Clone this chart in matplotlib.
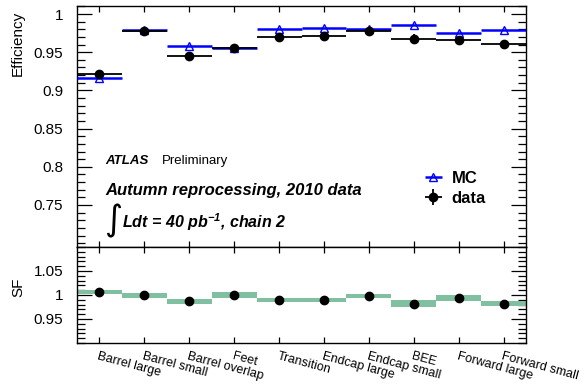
# efficiency per chamber region, data vs MC, with scale factor panel
import matplotlib
matplotlib.use("Agg")
import matplotlib.pyplot as plt
from matplotlib.ticker import MultipleLocator
import numpy as np

plt.rcParams['font.family'] = ['Liberation Sans', 'DejaVu Sans']
plt.rcParams['mathtext.fontset'] = 'custom'
plt.rcParams['mathtext.bf'] = 'Liberation Sans:bold:italic'
plt.rcParams['mathtext.rm'] = 'Liberation Sans:bold:italic'

regions = ["Barrel large", "Barrel small", "Barrel overlap", "Feet", "Transition",
           "Endcap large", "Endcap small", "BEE", "Forward large", "Forward small"]
eff_data = [0.921, 0.978, 0.945, 0.956, 0.970, 0.971, 0.9775, 0.9675, 0.9666, 0.961]
eff_data_err = [0.002, 0.001, 0.002, 0.002, 0.002, 0.002, 0.002, 0.006, 0.004, 0.0045]
eff_mc = [0.9165, 0.9795, 0.9576, 0.9554, 0.9805, 0.9814, 0.980, 0.986, 0.975, 0.979]
sf = [1.006, 0.999, 0.987, 1.000, 0.990, 0.990, 0.998, 0.982, 0.993, 0.982]
sf_err = [0.0043, 0.0045, 0.005, 0.006, 0.004, 0.004, 0.0037, 0.007, 0.006, 0.005]

x = np.arange(len(regions))

fig = plt.figure(figsize=(5.85, 3.91), dpi=100)
W, H = 585.0, 391.0
left, right = 77 / W, 526 / W
ax = fig.add_axes([left, 1 - 247 / H, right - left, (247 - 6) / H])
ax2 = fig.add_axes([left, 1 - 343 / H, right - left, (343 - 247) / H])

# top panel
mc = ax.errorbar(x, eff_mc, xerr=0.5, fmt='^', color='blue', mfc='none', mec='blue',
                 ms=6, mew=1.0, elinewidth=1.8, capsize=0, zorder=3)
dt = ax.errorbar(x, eff_data, xerr=0.5, yerr=eff_data_err, fmt='o', color='black',
                 ms=6, elinewidth=1.3, capsize=0, zorder=4)
ax.set_xlim(-0.5, len(regions) - 0.5)
ax.set_ylim(0.695, 1.0105)
ax.yaxis.set_minor_locator(MultipleLocator(0.01))
ax.set_yticks([0.75, 0.8, 0.85, 0.9, 0.95, 1.0])
ax.set_yticklabels(["0.75", "0.8", "0.85", "0.9", "0.95", "1"])
ax.set_xticks(x)
ax.set_xticklabels([])

ax.text(0.064, 0.357, "ATLAS", transform=ax.transAxes, fontsize=9.5, fontweight='bold',
        style='italic', va='center')
ax.text(0.19, 0.357, "Preliminary", transform=ax.transAxes, fontsize=9.5, va='center')
ax.text(0.064, 0.2365, "Autumn reprocessing, 2010 data", transform=ax.transAxes,
        fontsize=12, fontweight='bold', style='italic', va='center')
ax.text(0.061, 0.11, "\u222b", transform=ax.transAxes, fontsize=25, va='center',
        family=['DejaVu Sans'])
ax.text(0.1, 0.104, "Ldt = 40 pb$^{\\mathbf{-1}}$, chain 2", transform=ax.transAxes,
        fontsize=11.5, fontweight='bold', style='italic', va='center')

ax.legend([mc, dt], ["MC", "data"], loc='center left', bbox_to_anchor=(0.742, 0.243),
          frameon=False, handlelength=1.0, handletextpad=0.6, labelspacing=0.3,
          prop={'weight': 'bold', 'size': 12})

# bottom panel: scale factor
ax2.bar(x, [2 * e for e in sf_err], bottom=[s - e for s, e in zip(sf, sf_err)],
        width=1.0, color='#80c0a0', linewidth=0, zorder=2)
ax2.plot(x, sf, 'o', color='black', ms=6, zorder=3)
ax2.set_xlim(-0.5, len(regions) - 0.5)
ax2.set_ylim(0.9, 1.1)
ax2.set_yticks([0.95, 1.0, 1.05])
ax2.set_yticklabels(["0.95", "1", "1.05"])
ax2.yaxis.set_minor_locator(MultipleLocator(0.01))
ax2.set_xticks(x)
ax2.set_xticklabels(regions, rotation=-15, ha='left', va='top', rotation_mode='anchor',
                    fontsize=9)

for a in (ax, ax2):
    a.tick_params(axis='both', which='both', direction='in', top=True, right=True,
                  labelsize=11, width=0.9)
    a.tick_params(axis='y', which='major', length=11, pad=10)
    a.tick_params(axis='y', which='minor', length=6)
    a.tick_params(axis='x', which='major', length=4.5, pad=5)
    for s in a.spines.values():
        s.set_linewidth(1.0)
ax2.tick_params(axis='x', labelsize=9)

fig.text(18 / W, 1 - 43 / H, "Efficiency", rotation=90, ha='center', va='center', fontsize=11)
fig.text(18 / W, 1 - 287 / H, "SF", rotation=90, ha='center', va='center', fontsize=11)

fig.savefig("out.png", dpi=100)
